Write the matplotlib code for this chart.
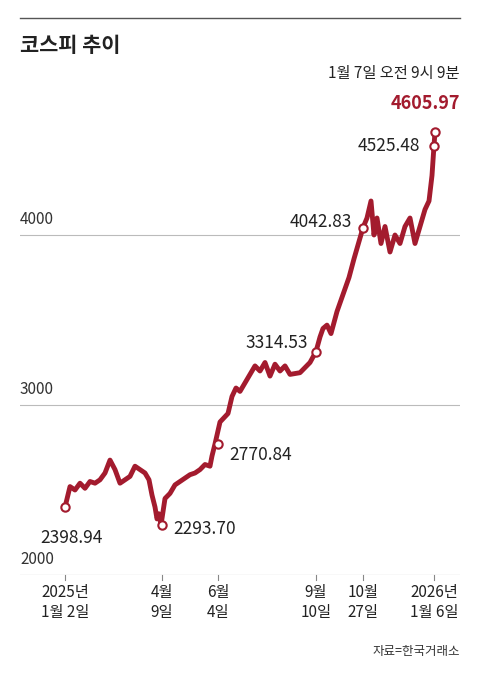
import matplotlib
matplotlib.use("Agg")
import matplotlib.pyplot as plt
import matplotlib.dates as mdates
from datetime import date, timedelta

plt.rcParams['font.family'] = ['Noto Sans CJK KR', 'DejaVu Sans']

base = date(2025, 1, 2)
day_offsets = [0, 5, 10, 15, 20, 25, 30, 35, 40, 45, 50, 55, 60, 65, 70, 75, 80, 84, 87, 90, 92, 94, 96,
               100, 105, 110, 115, 120, 125, 130, 135, 140, 145, 147, 150,
               155, 163, 167, 171, 175, 180, 185, 190, 195, 200, 205, 210, 215, 220, 225, 235, 245, 251,
               255, 258, 262, 266, 272, 278, 284, 289, 298,
               302, 306, 309, 312, 316, 320, 325, 330, 335, 340, 345, 350, 355, 360, 364, 367, 369, 370]
values = [2398.94, 2520, 2500, 2540, 2510, 2550, 2540, 2560, 2600, 2676, 2620, 2540, 2560, 2580, 2640, 2620, 2600, 2560, 2470, 2400, 2330, 2360, 2293.70,
          2450, 2480, 2530, 2550, 2570, 2590, 2600, 2620, 2650, 2640, 2700, 2770.84,
          2900, 2950, 3050, 3100, 3080, 3130, 3180, 3230, 3200, 3250, 3170, 3240, 3200, 3230, 3180, 3190, 3250, 3314.53,
          3400, 3450, 3470, 3420, 3550, 3650, 3750, 3860, 4042.83,
          4100, 4200, 4000, 4100, 3950, 4050, 3900, 4000, 3950, 4050, 4100, 3950, 4050, 4150, 4200, 4350, 4525.48, 4605.97]
dates = [base + timedelta(days=d) for d in day_offsets]

marks = [(date(2025,1,2), 2398.94, "2398.94"), (date(2025,4,9), 2293.70, "2293.70"),
         (date(2025,6,4), 2770.84, "2770.84"), (date(2025,9,10), 3314.53, "3314.53"),
         (date(2025,10,27), 4042.83, "4042.83"), (date(2026,1,6), 4525.48, "4525.48"),
         (date(2026,1,7), 4605.97, "4605.97")]
tick_dates = [date(2025,1,2), date(2025,4,9), date(2025,6,4), date(2025,9,10), date(2025,10,27), date(2026,1,6)]
tick_labels = ["2025년\n1월 2일", "4월\n9일", "6월\n4일", "9월\n10일", "10월\n27일", "2026년\n1월 6일"]
yticks = [2000, 3000, 4000]

W, H = 480, 677
fig = plt.figure(figsize=(4.8, 6.77), dpi=100)
ax = fig.add_axes([20/W, (H-575)/H, 440/W, 475/H])
x0 = mdates.date2num(base)
ax.set_xlim(x0 - 45, x0 + 395)
ax.set_ylim(2000, 2000 + 475/0.17)
for s in ax.spines.values():
    s.set_visible(False)
ax.set_yticks([]); ax.set_xticks([])
for v in yticks:
    ax.axhline(v, color='#bbbbbb' if v > 2000 else '#888888', lw=0.8, zorder=0)
    ax.text(0.0, v + 40, str(v), transform=ax.get_yaxis_transform(), fontsize=11, color='#333333', va='bottom')
red = '#a31b2e'
ax.plot(dates, values, color=red, lw=3.5, solid_joinstyle='round', zorder=2)
for d, v, _ in marks:
    ax.plot([d], [v], 'o', ms=6, mfc='white', mec=red, mew=1.5, zorder=3)
offs = {"2398.94": (-18, -22, 'left'), "2293.70": (8, -3, 'left'), "2770.84": (8, -8, 'left'),
        "3314.53": (-6, 6, 'right'), "4042.83": (-8, 4, 'right'), "4525.48": (-10, 0, 'right')}
for d, v, s in marks[:-1]:
    dx, dy, ha = offs[s]
    ax.annotate(s, (d, v), xytext=(dx, dy), textcoords='offset points', ha=ha, va='center',
                fontsize=12.5, color='#222222')
ax.annotate("4605.97", (marks[-1][0], marks[-1][1]), xytext=(18, 14), textcoords='offset points',
            ha='right', va='bottom', fontsize=13, fontweight='bold', color=red)
ax.annotate("1월 7일 오전 9시 9분", (marks[-1][0], marks[-1][1]), xytext=(18, 36), textcoords='offset points',
            ha='right', va='bottom', fontsize=11, color='#222222')
for d, lab in zip(tick_dates, tick_labels):
    ax.plot([d, d], [2000, 2000 - 30], color='#888888', lw=0.8, clip_on=False)
    ax.text(d, 2000 - 50, lab, ha='center', va='top', fontsize=11, color='#222222', linespacing=1.3)

fig.add_artist(plt.Line2D([20/W, 460/W], [1 - 18/H, 1 - 18/H], color='#555555', lw=1))
fig.text(20/W, 1 - 45/H, "코스피 추이", fontsize=15, fontweight='bold', va='center', color='#222222')
fig.text(460/W, 1 - 651/H, "자료=한국거래소", fontsize=9, ha='right', va='center', color='#333333')
fig.savefig("out.png", dpi=100)
